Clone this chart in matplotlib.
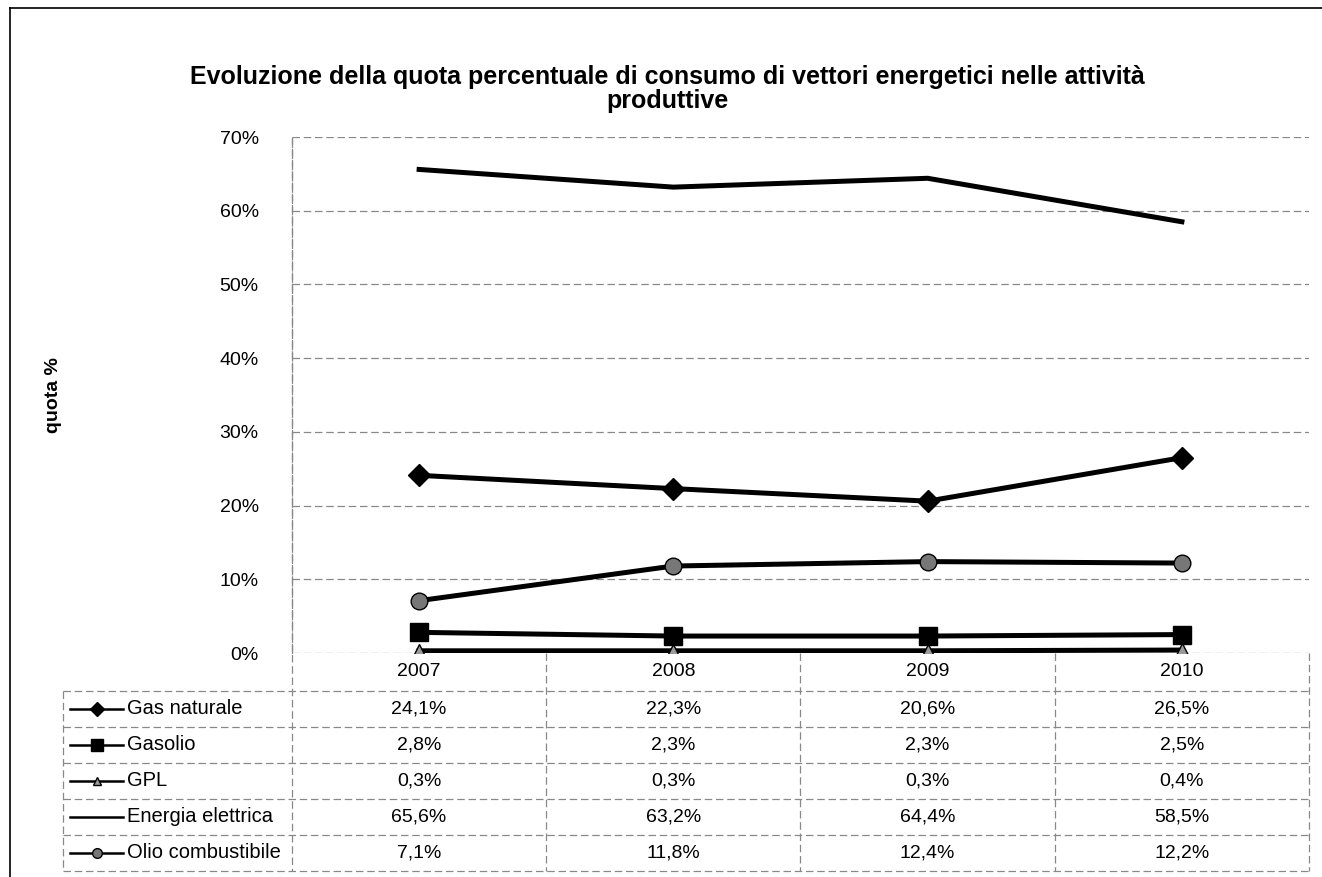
import matplotlib.pyplot as plt
from matplotlib.lines import Line2D

plt.rcParams['font.family'] = ['Liberation Sans', 'DejaVu Sans']

years = ['2007', '2008', '2009', '2010']
series = ['Gas naturale', 'Gasolio', 'GPL', 'Energia elettrica', 'Olio combustibile']
gas_naturale = [24.1, 22.3, 20.6, 26.5]
gasolio = [2.8, 2.3, 2.3, 2.5]
gpl = [0.3, 0.3, 0.3, 0.4]
energia_elettrica = [65.6, 63.2, 64.4, 58.5]
olio_combustibile = [7.1, 11.8, 12.4, 12.2]
values = [gas_naturale, gasolio, gpl, energia_elettrica, olio_combustibile]

styles = [
    dict(marker='D', ms=11, mfc='black', mec='black'),
    dict(marker='s', ms=13, mfc='black', mec='black'),
    dict(marker='^', ms=10, mfc='#999999', mec='black', mew=1),
    dict(marker=None),
    dict(marker='o', ms=12, mfc='#777777', mec='black', mew=1),
]
legend_ms = [7, 8, 6, 0, 7]

W, H = 1322, 877
fig = plt.figure(figsize=(W / 100, H / 100), dpi=100)

ax_l, ax_r, ax_t, ax_b = 292, 1309, 137, 653
ax = fig.add_axes([ax_l / W, 1 - ax_b / H, (ax_r - ax_l) / W, (ax_b - ax_t) / H])

x = list(range(len(years)))
for name, vals, st in zip(series, values, styles):
    ax.plot(x, [v / 100 for v in vals], color='black', lw=3.6, label=name, **st, zorder=3)

ax.set_xlim(-0.5, len(years) - 0.5)
ax.set_ylim(0, 0.70)
ax.set_yticks([i / 10 for i in range(8)])
ax.set_yticklabels([f'{i * 10}%' for i in range(8)], fontsize=14)
ax.tick_params(axis='y', length=0, pad=24)
ax.set_xticks([])
for s in ['top', 'right', 'bottom']:
    ax.spines[s].set_visible(False)
ax.spines['left'].set_color('#888888')
ax.spines['left'].set_linestyle((0, (6, 3)))
ax.spines['left'].set_linewidth(0.9)
ax.grid(axis='y', color='#888888', linestyle=(0, (6, 3)), linewidth=0.9)
ax.set_axisbelow(True)

ax.set_ylabel('quota %', fontsize=14, fontweight='bold', labelpad=0)
ax.yaxis.set_label_coords((62 - ax_l) / (ax_r - ax_l), 0.5)

fig.text(0.505, 1 - 89 / H,
         'Evoluzione della quota percentuale di consumo di vettori energetici nelle attività\nproduttive',
         ha='center', va='center', fontsize=18, fontweight='bold', linespacing=1.05)

# data table under the plot
tr = ax.get_xaxis_transform()
axh = ax_b - ax_t
axw = ax_r - ax_l
head_h = 38 / axh
row_h = 36 / axh
leg_left = (63 - ax_l) / axw * len(years) - 0.5
bottom = -head_h - row_h * len(series)
grid_kw = dict(color='#888888', linestyle=(0, (6, 3)), linewidth=0.9, transform=tr, clip_on=False)

for i, yr in enumerate(years):
    ax.text(i, -head_h / 2, yr, ha='center', va='center', fontsize=14, transform=tr)

for k in range(len(years) + 1):
    top = 0 if k > 0 else 1
    ax.add_line(Line2D([k - 0.5, k - 0.5], [top, bottom], **grid_kw))
ax.add_line(Line2D([leg_left, leg_left], [-head_h, bottom], **grid_kw))
for r in range(len(series) + 1):
    yy = -head_h - r * row_h
    ax.add_line(Line2D([leg_left, len(years) - 0.5], [yy, yy], **grid_kw))

sym_x0 = leg_left + (70 - 63) / axw * len(years)
sym_x1 = leg_left + (123 - 63) / axw * len(years)
txt_x = leg_left + (127 - 63) / axw * len(years)
for r, (name, vals, st) in enumerate(zip(series, values, styles)):
    yc = -head_h - (r + 0.5) * row_h
    ax.add_line(Line2D([sym_x0, sym_x1], [yc, yc], color='black', lw=1.8,
                       transform=tr, clip_on=False))
    if st['marker']:
        ax.add_line(Line2D([(sym_x0 + sym_x1) / 2], [yc], color='black', lw=0,
                           marker=st['marker'], ms=legend_ms[r], mfc=st['mfc'], mec='black',
                           transform=tr, clip_on=False))
    ax.text(txt_x, yc, name, ha='left', va='center', fontsize=14.5, transform=tr)
    for i, v in enumerate(vals):
        ax.text(i, yc, f'{v:.1f}%'.replace('.', ','), ha='center', va='center',
                fontsize=14, transform=tr)

# outer chart border
fig.add_artist(Line2D([10 / W, 10 / W], [0, 1 - 8 / H], color='black', lw=1.2))
fig.add_artist(Line2D([10 / W, 1], [1 - 8 / H, 1 - 8 / H], color='black', lw=1.2))

fig.savefig('out.png', dpi=100)
